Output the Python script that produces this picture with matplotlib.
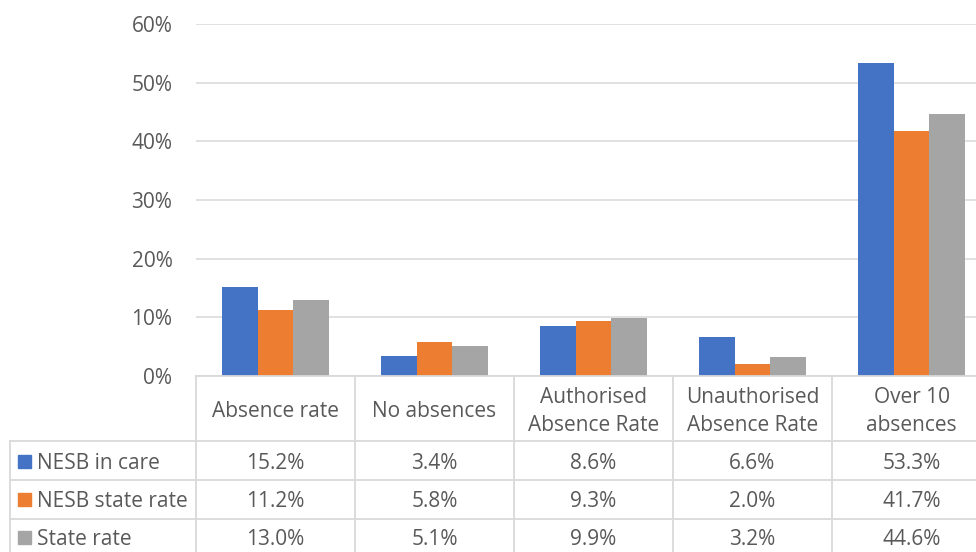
import matplotlib
matplotlib.use("Agg")
import matplotlib.pyplot as plt
from matplotlib.transforms import blended_transform_factory
from matplotlib.lines import Line2D
from matplotlib.patches import Rectangle

categories = ["Absence rate", "No absences", "Authorised\nAbsence Rate",
              "Unauthorised\nAbsence Rate", "Over 10\nabsences"]
series_names = ["NESB in care", "NESB state rate", "State rate"]
nesb_in_care = [15.2, 3.4, 8.6, 6.6, 53.3]
nesb_state_rate = [11.2, 5.8, 9.3, 2.0, 41.7]
state_rate = [13.0, 5.1, 9.9, 3.2, 44.6]
yticks = [0, 10, 20, 30, 40, 50, 60]
colors = ["#4472C4", "#ED7D31", "#A5A5A5"]

plt.rcParams['font.family'] = ['Open Sans', 'DejaVu Sans']
TXT = "#595959"
GRID = "#D9D9D9"
FS = 15

W, H = 976, 552
fig = plt.figure(figsize=(W / 100, H / 100), dpi=100)
x0, x1 = 196, 991
y0, y1 = 376, 24
ax = fig.add_axes([x0 / W, 1 - y0 / H, (x1 - x0) / W, (y0 - y1) / H])
ax.set_xlim(-0.5, len(categories) - 0.5)
ax.set_ylim(0, 60)

series = [nesb_in_care, nesb_state_rate, state_rate]
bw = 0.223
for i, (vals, c) in enumerate(zip(series, colors)):
    xs = [k + (i - 1) * bw for k in range(len(categories))]
    ax.bar(xs, vals, width=bw, color=c, zorder=3)

for s in ax.spines.values():
    s.set_visible(False)
ax.set_xticks([])
ax.set_yticks(yticks)
ax.set_yticklabels([f"{t}%" for t in yticks], color=TXT, fontsize=FS)
ax.tick_params(axis='y', length=0, pad=17)
ax.yaxis.grid(True, color=GRID, linewidth=1.1, zorder=0)
ax.set_axisbelow(True)

def ay(ypix):
    return (y0 - ypix) / (y0 - y1)

tr = blended_transform_factory(ax.transData, ax.transAxes)
trf = blended_transform_factory(fig.transFigure, ax.transAxes)
lw = 1.3
ax.add_line(Line2D([-0.5, len(categories) - 0.5], [0, 0], transform=tr, color=GRID, lw=lw, clip_on=False, zorder=4))
for k in range(len(categories) + 1):
    ax.add_line(Line2D([k - 0.5, k - 0.5], [ay(376), ay(560)], transform=tr, color=GRID, lw=lw, clip_on=False))
row_tops = [441, 480, 519]
for yp in row_tops:
    ax.add_line(Line2D([10 / W, 1.0], [ay(yp), ay(yp)], transform=trf, color=GRID, lw=lw, clip_on=False))
ax.add_line(Line2D([10 / W, 10 / W], [ay(441), ay(560)], transform=trf, color=GRID, lw=lw, clip_on=False))

# header labels, each line placed on its own baseline
for k, cat in enumerate(categories):
    lines = cat.split("\n")
    n = len(lines)
    for j, line in enumerate(lines):
        base = 417 + (j - (n - 1) / 2) * 28
        ax.text(k, ay(base), line, transform=tr, ha='center', va='baseline', color=TXT,
                fontsize=FS, clip_on=False)

row_bases = [469, 507, 545]
for i, (name, vals, c) in enumerate(zip(series_names, series, colors)):
    yb = ay(row_bases[i])
    sq = 13
    fig.patches.append(Rectangle((18 / W, 1 - (row_bases[i] - 1) / H), sq / W, sq / H,
                                 transform=fig.transFigure, color=c))
    fig.text(37 / W, 1 - row_bases[i] / H, name, ha='left', va='baseline', color=TXT, fontsize=FS)
    for k, v in enumerate(vals):
        ax.text(k, yb, f"{v:.1f}%", transform=tr, ha='center', va='baseline', color=TXT,
                fontsize=FS, clip_on=False)

fig.savefig("out.png", dpi=100)
